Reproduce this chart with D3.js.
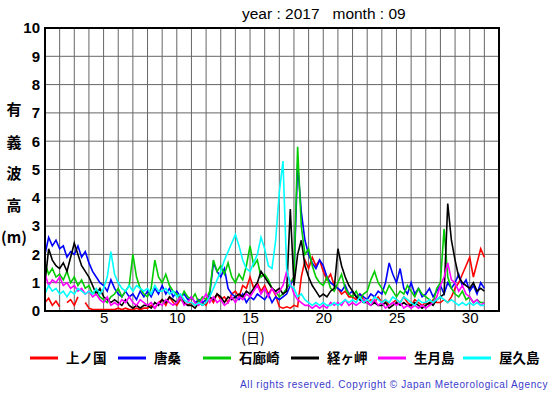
<!DOCTYPE html>
<html>
<head>
<meta charset="utf-8">
<script src="https://cdn.jsdelivr.net/npm/d3@7"></script>
<style>
  body { margin: 0; background: #fff; }
  svg { display: block; }
</style>
</head>
<body>
<div id="chart"></div>
<script>
// wave height, 6-hourly readings, day 1 00h .. day 31 00h (121 values)
var stations = ["上ノ国", "唐桑", "石廊崎", "経ヶ岬", "生月島", "屋久島"];
var colors = ["#ff0000", "#0000ff", "#00cc00", "#000000", "#ff00ff", "#00ffff"];
var xTicks = [5, 10, 15, 20, 25, 30];
var yTicks = [0, 1, 2, 3, 4, 5, 6, 7, 8, 9, 10];

var kaminokuni = [
  0.3, 0.45, 0.2, 0.35, 0.15, null, 0.3, 0.4, 0.2, 0.5, null, 0.3, 0.1, 0.05, 0.05, 0.05,
  0.05, 0.05, 0.05, 0.05, 0.1, 0.05, 0.1, 0.05, 0.05, 0.1, 0.05, 0.1, 0.1, 0.2, 0.1, 0.3,
  0.4, 0.2, 0.5, 0.3, 0.2, 0.4, 0.3, 0.2, 0.3, 0.2, 0.4, 0.3, 0.2, 0.5, 0.3, 0.6,
  0.4, 0.5, 0.3, 0.6, 0.7, 0.5, 0.9, 0.8, 1.2, 0.8, 1.0, 0.7, 0.9, 0.6, 0.8, 0.55,
  0.15, 0.1, 0.15, 0.1, 0.2, 0.15, 1.2, 1.8, 1.5, 1.9, 1.6, 1.8, 1.4, 1.1, 1.3, 0.9,
  0.8, 0.6, 0.7, 0.5, 0.5, 0.4, 0.6, 0.4, 0.3, 0.4, 0.3, 0.5, 0.3, 0.4, 0.2, 0.3,
  0.4, 0.3, 0.5, 0.3, 0.2, 0.4, 0.3, 0.2, 0.3, 0.2, 0.4, 0.3, 0.3, 0.4, 0.3, 0.5,
  0.8, 1.0, 1.3, 1.6, 1.9, 1.2, 1.7, 2.2, 1.9
];
var karakuwa = [
  2.0, 2.6, 2.3, 2.5, 2.2, 2.3, 1.9, 2.1, 2.0, 2.3, 1.9, 2.1, 1.7, 1.4, 1.2, 1.0,
  0.9, 0.7, 1.1, 0.8, 0.6, 0.5, 0.7, 0.5, 0.6, 0.4, 0.7, 0.5, 0.7, 0.5, 0.8, 0.6,
  0.9, 0.6, 0.8, 0.5, 0.7, 0.5, 0.6, 0.4, 0.5, 0.3, 0.4, 0.3, 0.4, 0.6, 1.7, 1.4,
  1.2, 1.5, 0.8, 0.6, 0.5, 0.4, 0.6, 0.3, 0.5, 0.4, 0.6, 0.5, 0.4, 0.6, 0.3, 0.5,
  0.4, 0.5, 0.6, 0.9, 1.2, 5.2, 3.5, 2.5, 2.0, 1.7, 1.5, 1.8, 1.6, 1.2, 1.0, 0.9,
  0.8, 0.7, 0.9, 0.6, 0.7, 0.5, 0.6, 0.5, 0.4, 0.6, 0.5, 0.7, 0.6, 1.0, 1.7, 1.3,
  1.0, 1.5, 0.8, 0.6, 1.0, 0.6, 0.8, 0.5, 0.6, 0.8, 0.5, 0.7, 0.9, 0.6, 1.0, 0.8,
  1.0, 1.3, 0.9, 1.1, 0.7, 0.9, 0.6, 1.0, 0.8
];
var irozaki = [
  1.7, 1.3, 1.5, 1.2, 1.3, 1.1, 1.4, 1.0, 1.2, 0.9, 1.1, 0.8, 0.9, 0.6, 0.7, 0.5,
  0.4, 0.3, 0.5, 0.6, 0.8, 0.5, 0.7, 0.9, 2.0, 1.2, 0.8, 0.6, 0.5, 0.8, 1.8, 1.2,
  1.0, 1.3, 0.9, 0.7, 0.6, 0.4, 0.7, 0.5, 0.4, 0.6, 0.3, 0.5, 0.4, 0.7, 1.8, 1.4,
  1.6, 1.3, 1.7, 1.2, 1.0, 1.3, 1.1, 1.6, 2.3, 1.6, 1.8, 1.2, 1.3, 1.1, 0.8, 0.7,
  0.5, 0.6, 0.8, 1.0, 1.2, 5.8, 3.0, 2.0, 2.2, 1.6, 1.2, 1.0, 0.9, 1.2, 0.8, 0.7,
  1.0, 1.3, 0.8, 0.6, 0.5, 0.7, 0.4, 0.6, 0.7, 1.1, 1.4, 1.0, 0.8, 0.6, 0.9, 0.7,
  0.5, 0.7, 0.6, 0.9, 0.7, 0.5, 0.8, 0.6, 0.5, 0.4, 0.3, 0.8, 1.0, 2.9, 1.2, 0.8,
  0.6, 0.5, 0.7, 0.4, 0.5, 0.3, 0.4, 0.3, 0.3
];
var kyogamisaki = [
  1.0, 2.2, 1.8, 1.6, 1.5, 1.7, 1.4, 1.9, 2.4, 2.0, 1.6, 1.4, 1.2, 0.9, 0.6, 0.8,
  0.5, 0.4, 0.3, 0.4, 0.3, 0.2, 0.4, 0.2, 0.1, 0.2, 0.1, 0.2, 0.2, 0.1, 0.3, 0.2,
  0.4, 0.3, 0.5, 0.4, 0.3, 0.5, 0.3, 0.2, 0.2, 0.1, 0.3, 0.2, 0.3, 0.5, 0.4, 0.6,
  0.5, 0.3, 0.5, 0.4, 0.5, 0.6, 0.5, 0.7, 0.6, 0.8, 1.0, 1.4, 1.2, 1.0, 0.8, 0.7,
  0.8, 0.6, 0.7, 3.6, 0.9, 2.0, 2.5, 1.6, 1.2, 0.9, 0.7, 0.5, 0.6, 0.5, 0.7, 0.8,
  2.2, 1.6, 1.2, 0.9, 0.7, 0.5, 0.4, 0.3, 0.3, 0.2, 0.3, 0.2, 0.2, 0.3, 0.1, 0.2,
  0.3, 0.2, 0.3, 0.2, 0.2, 0.3, 0.2, 0.1, 0.2, 0.3, 0.2, 0.4, 0.5, 0.6, 3.8, 2.5,
  1.8, 1.2, 1.0, 0.9, 0.8, 1.0, 0.7, 0.8, 0.7
];
var ikitsukishima = [
  1.3, 0.9, 1.1, 1.0, 1.2, 0.9, 1.0, 0.8, 0.9, 0.7, 0.8, 0.6, 0.7, 0.5, 0.6, 0.4,
  0.3, 0.5, 0.2, 0.3, 0.2, 0.4, 0.3, 0.5, 0.3, 0.2, 0.4, 0.3, 0.2, 0.3, 0.1, 0.3,
  0.2, 0.4, 0.3, 0.2, 0.3, 0.5, 0.2, 0.3, 0.5, 0.3, 0.2, 0.4, 0.6, 0.3, 0.5, 0.3,
  0.4, 0.2, 0.3, 0.5, 0.3, 0.5, 0.4, 0.6, 0.5, 0.7, 0.9, 0.6, 0.8, 0.5, 0.8, 0.6,
  0.7, 0.9, 1.4, 1.0, 0.6, 0.4, 0.3, 0.2, 0.2, 0.1, 0.2, 0.1, 0.2, 0.1, 0.3, 0.2,
  0.3, 0.2, 0.4, 0.2, 0.3, 0.2, 0.3, 0.4, 0.3, 0.2, 0.4, 0.2, 0.3, 0.1, 0.2, 0.3,
  0.2, 0.3, 0.1, 0.2, 0.1, 0.2, 0.1, 0.2, 0.1, 0.2, 0.3, 0.5, 0.9, 1.2, 1.7, 1.1,
  1.0, 0.7, 0.9, 0.6, 0.5, 0.3, 0.4, 0.2, 0.3
];
var yakushima = [
  0.6, 0.9, 0.7, 0.8, 0.6, 0.7, 0.5, 0.7, 0.6, 0.8, 0.7, 0.6, 0.7, 0.6, 0.8, 0.6,
  0.8, 1.2, 2.1, 1.3, 1.0, 0.8, 0.7, 0.9, 0.7, 0.9, 0.8, 0.7, 0.8, 0.6, 0.9, 0.7,
  0.7, 0.8, 0.6, 0.7, 0.5, 0.6, 0.4, 0.3, 0.3, 0.2, 0.3, 0.2, 0.3, 0.5, 0.8, 1.1,
  1.4, 1.8, 2.1, 2.4, 2.7, 2.3, 1.8, 1.5, 1.4, 1.7, 2.0, 2.6, 2.2, 1.6, 1.5, 2.5,
  4.2, 5.3, 1.5, 0.9, 0.8, 0.5, 0.6, 0.4, 0.3, 0.2, 0.3, 0.2, 0.3, 0.2, 0.2, 0.3,
  0.2, 0.3, 0.4, 0.3, 0.4, 0.3, 0.5, 0.3, 0.4, 0.3, 0.5, 0.4, 0.3, 0.4, 0.3, 0.5,
  0.4, 0.3, 0.5, 0.4, 0.3, 0.2, 0.4, 0.3, 0.3, 0.4, 0.3, 0.4, 0.5, 0.4, 0.3, 0.4,
  0.3, 0.2, 0.3, 0.2, 0.3, 0.2, 0.3, 0.2, 0.2
];
var series = [kaminokuni, karakuwa, irozaki, kyogamisaki, ikitsukishima, yakushima];

var width = 555;
var height = 395;
var plotLeft = 45, plotRight = 499, plotTop = 28, plotBottom = 311;

var svg = d3.select("#chart").append("svg").attr("width", width).attr("height", height);

var x = d3.scaleLinear().domain([1, 32]).range([plotLeft, plotRight]);
var y = d3.scaleLinear().domain([0, 10]).range([plotBottom, plotTop]);

// grid
svg.append("g").selectAll("line").data(d3.range(2, 32)).enter()
  .append("line")
  .attr("x1", function(d) { return x(d); }).attr("x2", function(d) { return x(d); })
  .attr("y1", plotTop).attr("y2", plotBottom)
  .attr("stroke", "#666").attr("stroke-width", 1);

svg.append("g").selectAll("line").data(yTicks.slice(1, 10)).enter()
  .append("line")
  .attr("x1", plotLeft).attr("x2", plotRight)
  .attr("y1", function(d) { return y(d); }).attr("y2", function(d) { return y(d); })
  .attr("stroke", "#666").attr("stroke-width", 1);

// data lines
var line = d3.line()
  .defined(function(d) { return d != null; })
  .x(function(d, i) { return x(1 + i / 4); })
  .y(function(d) { return y(d); });

svg.append("clipPath").attr("id", "plotclip")
  .append("rect").attr("x", plotLeft).attr("y", plotTop)
  .attr("width", plotRight - plotLeft).attr("height", plotBottom - plotTop);

svg.append("g").attr("clip-path", "url(#plotclip)")
  .selectAll("path").data(series).enter()
  .append("path")
  .attr("d", function(d) { return line(d); })
  .attr("fill", "none")
  .attr("stroke", function(d, i) { return colors[i]; })
  .attr("stroke-width", 1.6)
  .attr("stroke-linejoin", "miter");

// frame
svg.append("rect")
  .attr("x", plotLeft).attr("y", plotTop)
  .attr("width", plotRight - plotLeft).attr("height", plotBottom - plotTop)
  .attr("fill", "none").attr("stroke", "#000").attr("stroke-width", 2);

// axes (labels only)
var yAxis = d3.axisLeft(y).tickValues(yTicks).tickSize(0).tickPadding(5);
var yg = svg.append("g").attr("transform", "translate(" + plotLeft + ",0)").call(yAxis);
yg.select(".domain").remove();
yg.selectAll("text")
  .attr("font-family", "Liberation Sans, Arial, sans-serif")
  .attr("font-size", 15).attr("font-weight", "bold").attr("fill", "#000");

var xAxis = d3.axisBottom(x).tickValues(xTicks).tickSize(0).tickPadding(1);
var xg = svg.append("g").attr("transform", "translate(0," + plotBottom + ")").call(xAxis);
xg.select(".domain").remove();
xg.selectAll("text")
  .attr("font-family", "Liberation Sans, Arial, sans-serif")
  .attr("font-size", 15).attr("fill", "#000");

// title
svg.append("text")
  .attr("x", 242).attr("y", 19)
  .attr("font-family", "Liberation Sans, Arial, sans-serif")
  .attr("font-size", 15.5)
  .style("white-space", "pre")
  .text("year : 2017   month : 09");

// y label, stacked
var ylab = ["有", "義", "波", "高", "(m)"];
var ylabY = [110, 143, 174, 206, 238];
svg.append("g").selectAll("text").data(ylab).enter()
  .append("text")
  .attr("x", 14)
  .attr("y", function(d, i) { return ylabY[i]; })
  .attr("dy", "0.35em")
  .attr("text-anchor", "middle")
  .attr("font-family", "Noto Sans CJK JP, sans-serif")
  .attr("font-size", 15).attr("font-weight", "bold")
  .text(function(d) { return d; });

svg.append("text")
  .attr("x", 253).attr("y", 338).attr("dy", "0.35em")
  .attr("text-anchor", "middle")
  .attr("font-family", "Noto Sans CJK JP, sans-serif")
  .attr("font-size", 14)
  .text("(日)");

// legend
var legX = [30, 118, 203, 291, 378, 463];
var leg = svg.append("g").selectAll("g").data(stations).enter()
  .append("g")
  .attr("transform", function(d, i) { return "translate(" + legX[i] + ",358)"; });
leg.append("line")
  .attr("x1", 0).attr("x2", 28).attr("y1", 0).attr("y2", 0)
  .attr("stroke", function(d, i) { return colors[i]; })
  .attr("stroke-width", 3);
leg.append("text")
  .attr("x", 36).attr("dy", "0.35em")
  .attr("font-family", "Noto Sans CJK JP, sans-serif")
  .attr("font-size", 13.5).attr("font-weight", "bold")
  .text(function(d) { return d; });

// copyright
svg.append("text")
  .attr("x", 548).attr("y", 388)
  .attr("text-anchor", "end")
  .attr("font-family", "Liberation Sans, Arial, sans-serif")
  .attr("font-size", 10)
  .attr("letter-spacing", 0.6)
  .attr("fill", "#3a3acc")
  .text("All rights reserved. Copyright © Japan Meteorological Agency");
</script>
</body>
</html>
